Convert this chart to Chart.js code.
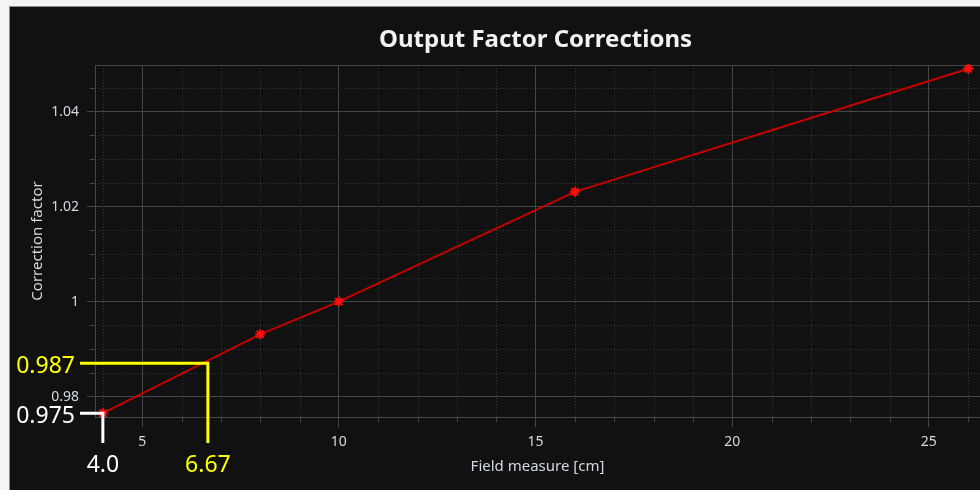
<!DOCTYPE html>
<html><head><meta charset="utf-8">
<script src="https://cdn.jsdelivr.net/npm/chart.js@4/dist/chart.umd.min.js"></script>
<style>html,body{margin:0;padding:0;background:#111;}#wrap{width:980px;height:490px;position:relative}</style>
</head><body><div id="wrap"><canvas id="c" width="980" height="490"></canvas></div>
<script>
const chartTitle = 'Output Factor Corrections';
const xAxisTitle = 'Field measure [cm]';
const yAxisTitle = 'Correction factor';

const fieldSizes = [4, 8, 10, 16, 26];
const correctionFactors = [0.9765, 0.9931, 1.0, 1.0231, 1.049];

const xTickValues = [5, 10, 15, 20, 25];
const xTickLabels = ['5', '10', '15', '20', '25'];
const yTickValues = [0.98, 1.0, 1.02, 1.04];
const yTickLabels = ['0.98', '1', '1.02', '1.04'];
const xMinorValues = [4, 6, 7, 8, 9, 11, 12, 13, 14, 16, 17, 18, 19, 21, 22, 23, 24, 26];
const yMinorValues = [0.985, 0.99, 0.995, 1.005, 1.01, 1.015, 1.025, 1.03, 1.035, 1.045];

const markerXValues = [4.0, 6.67];
const markerYValues = [0.9765, 0.987];
const markerXLabels = ['4.0', '6.67'];
const markerYLabels = ['0.975', '0.987'];
const markerColors = ['#ffffff', '#ffff00'];

const GRID = '#464646';
const MINOR = '#383838';
const TICKTXT = '#d3d9e2';
const FONT = '"Noto Sans", "Open Sans", sans-serif';

const bgPlugin = {
  id: 'bg',
  beforeDraw(chart) {
    const ctx = chart.ctx;
    ctx.save();
    ctx.fillStyle = '#111111';
    ctx.fillRect(0, 0, chart.width, chart.height);
    ctx.fillStyle = '#f4f4f4';
    ctx.fillRect(0, 0, 9, chart.height);
    ctx.fillRect(0, 0, chart.width, 6);
    ctx.fillStyle = '#8c8c8c';
    ctx.fillRect(9, 6, 1, chart.height);
    ctx.fillRect(9, 6, chart.width, 1);
    ctx.restore();
  },
  beforeDatasetsDraw(chart) {
    const {ctx, chartArea: a, scales: {x, y}} = chart;
    ctx.save();
    ctx.lineWidth = 1;
    ctx.strokeStyle = MINOR;
    ctx.setLineDash([1, 2]);
    xMinorValues.forEach(v => {
      const px = Math.round(x.getPixelForValue(v)) + 0.5;
      ctx.beginPath(); ctx.moveTo(px, a.top); ctx.lineTo(px, a.bottom); ctx.stroke();
    });
    yMinorValues.forEach(v => {
      const py = Math.round(y.getPixelForValue(v)) + 0.5;
      ctx.beginPath(); ctx.moveTo(a.left, py); ctx.lineTo(a.right, py); ctx.stroke();
    });
    ctx.setLineDash([]);
    ctx.strokeStyle = GRID;
    xMinorValues.forEach(v => {
      const px = Math.round(x.getPixelForValue(v)) + 0.5;
      ctx.beginPath(); ctx.moveTo(px, a.bottom); ctx.lineTo(px, a.bottom + 5); ctx.stroke();
    });
    yMinorValues.forEach(v => {
      const py = Math.round(y.getPixelForValue(v)) + 0.5;
      ctx.beginPath(); ctx.moveTo(a.left - 5, py); ctx.lineTo(a.left, py); ctx.stroke();
    });
    ctx.beginPath(); ctx.moveTo(a.left, a.top + 0.5); ctx.lineTo(a.right, a.top + 0.5); ctx.stroke();
    ctx.restore();
  },
  afterDraw(chart) {
    const {ctx, chartArea: a, scales: {x, y}} = chart;
    ctx.save();
    ctx.fillStyle = '#f2f2f2';
    ctx.font = 'bold 24px ' + FONT;
    ctx.textAlign = 'center';
    ctx.textBaseline = 'middle';
    ctx.fillText(chartTitle, (a.left + a.right) / 2 - 2, 40);

    ctx.lineWidth = 3;
    ctx.font = '23px ' + FONT;
    markerXValues.forEach((xv, i) => {
      const px = x.getPixelForValue(xv);
      const py = y.getPixelForValue(markerYValues[i]);
      ctx.strokeStyle = markerColors[i];
      ctx.fillStyle = markerColors[i];
      ctx.beginPath();
      ctx.moveTo(80, py); ctx.lineTo(px, py); ctx.lineTo(px, 443);
      ctx.stroke();
      ctx.textAlign = 'right'; ctx.textBaseline = 'middle';
      ctx.fillText(markerYLabels[i], 75, py + 3);
      ctx.textAlign = 'center';
      ctx.fillText(markerXLabels[i], px, 465);
    });
    ctx.restore();
  }
};

new Chart(document.getElementById('c'), {
  type: 'line',
  data: {
    datasets: [{
      data: fieldSizes.map((v, i) => ({x: v, y: correctionFactors[i]})),
      borderColor: '#c80000',
      borderWidth: 2,
      pointStyle: 'star',
      pointRadius: 5,
      pointBorderWidth: 2,
      pointBorderColor: '#ff1010',
      pointBackgroundColor: '#ff1010',
      tension: 0,
      clip: false
    }]
  },
  options: {
    responsive: false,
    animation: false,
    devicePixelRatio: 1,
    layout: {autoPadding: false, padding: {left: 0, top: 65, right: 0, bottom: 0}},
    plugins: {legend: {display: false}, title: {display: false}, tooltip: {enabled: false}},
    scales: {
      x: {
        type: 'linear', min: 3.8, max: 26.3,
        afterFit: s => { s.height = 73; s.paddingLeft = 0; s.paddingRight = 0; },
        afterBuildTicks: s => { s.ticks = xTickValues.map(v => ({value: v})); },
        grid: {color: GRID, tickColor: GRID, tickLength: 10, lineWidth: 1},
        border: {color: GRID},
        ticks: {color: TICKTXT, font: {family: FONT, size: 14}, padding: 7, maxRotation: 0,
          callback: (v, i) => xTickLabels[i]},
        title: {display: true, text: xAxisTitle, color: TICKTXT, font: {family: FONT, size: 15}, padding: {bottom: 14}}
      },
      y: {
        type: 'linear', min: 0.9757, max: 1.0498,
        afterFit: s => { s.width = 95; s.paddingTop = 0; s.paddingBottom = 0; },
        afterBuildTicks: s => { s.ticks = yTickValues.map(v => ({value: v})); },
        grid: {color: GRID, tickColor: GRID, tickLength: 8, lineWidth: 1},
        border: {color: GRID},
        ticks: {color: TICKTXT, font: {family: FONT, size: 14}, padding: 8,
          callback: (v, i) => yTickLabels[i]},
        title: {display: true, text: yAxisTitle, color: TICKTXT, font: {family: FONT, size: 15}, padding: {top: 29}}
      }
    }
  },
  plugins: [bgPlugin]
});
</script></body></html>
